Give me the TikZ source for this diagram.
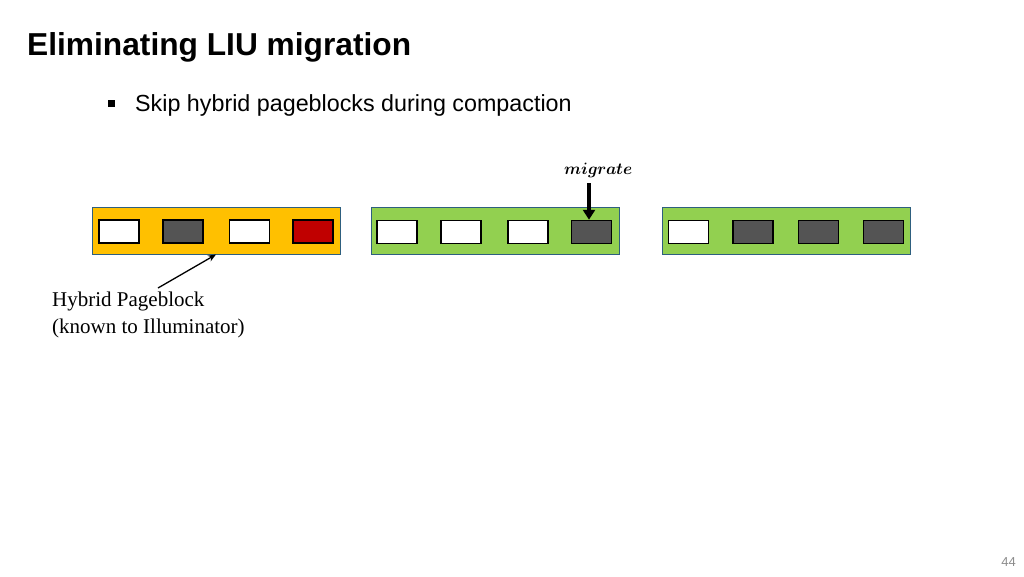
\documentclass[tikz,border=0pt]{standalone}
\usepackage{fontspec}
\setmainfont{Liberation Serif}
\newfontfamily\arialfont{Liberation Sans}
\usepackage{unicode-math}
\setmathfont{Latin Modern Math}
\usetikzlibrary{arrows.meta}
\definecolor{blkorange}{HTML}{FFC000}
\definecolor{blkgreen}{HTML}{92D050}
\definecolor{blkborder}{HTML}{2E5F7F}
\definecolor{slotgray}{HTML}{545454}
\definecolor{slotred}{HTML}{C00000}
\definecolor{pagegray}{HTML}{8C8C8C}
\begin{document}
\begin{tikzpicture}[x=1pt,y=-1pt,
  block/.style={draw=blkborder,line width=0.9pt,minimum width=248pt,minimum height=47pt,inner sep=0pt},
  slot/.style={draw=black,line width=1.5pt,minimum width=40pt,minimum height=23pt,inner sep=0pt},
  emptyslot/.style={slot,fill=white},
  usedslot/.style={slot,fill=slotgray},
  redslot/.style={slot,fill=slotred}]
\useasboundingbox (0,0) rectangle (1024,576);
% title and bullet
\node[anchor=base west,inner sep=0pt,font=\arialfont\bfseries\fontsize{31.7}{36}\selectfont] (title) at (27,55) {Eliminating LIU migration};
\node[fill=black,minimum size=7pt,inner sep=0pt] (bul) at (111,103) {};
\node[anchor=base west,inner sep=0pt,font=\arialfont\fontsize{23.3}{27}\selectfont] (bullet) at (135,111) {Skip hybrid pageblocks during compaction};
% blocks
\node[block,fill=blkorange] (b1) at (216,231) {};
\node[block,fill=blkgreen] (b2) at (495.5,231) {};
\node[block,fill=blkgreen] (b3) at (786.5,231) {};
% slots block 1
\node[emptyslot] (s11) at (119,231.5) {};
\node[usedslot] (s12) at (183,231.5) {};
\node[emptyslot] (s13) at (249.5,231.5) {};
\node[redslot] (s14) at (313,231.5) {};
% slots block 2
\node[emptyslot] (s21) at (397,232) {};
\node[emptyslot] (s22) at (461,232) {};
\node[emptyslot] (s23) at (528,232) {};
\node[usedslot] (s24) at (591.5,232) {};
% slots block 3
\node[emptyslot] (s31) at (688.5,232) {};
\node[usedslot] (s32) at (753,232) {};
\node[usedslot] (s33) at (818.5,232) {};
\node[usedslot] (s34) at (883.5,232) {};
% migrate
\node[inner sep=0pt,font=\fontsize{16.5}{20}\selectfont] (mig) at (598.5,170) {$\symbfit{migrate}$};
\coordinate (migtop) at (589,183);
\draw[line width=3.5pt,-{Triangle[length=10pt,width=12pt]}] (migtop) -- (s24.north -| migtop);
% hybrid label
\node[anchor=base west,align=left,inner sep=0pt,font=\fontsize{21}{26.5}\selectfont] (hyb) at (52,333) {Hybrid Pageblock\\(known to Illuminator)};
\coordinate (hybtail) at (158,288);
\draw[line width=1.3pt,-{Stealth[length=8pt,width=6.5pt]}] (hybtail) -- (216,254.5);
% page number
\node[anchor=base east,inner sep=0pt,text=pagegray,font=\arialfont\fontsize{13}{15}\selectfont] (pg) at (1016,566) {44};
\end{tikzpicture}
\end{document}
